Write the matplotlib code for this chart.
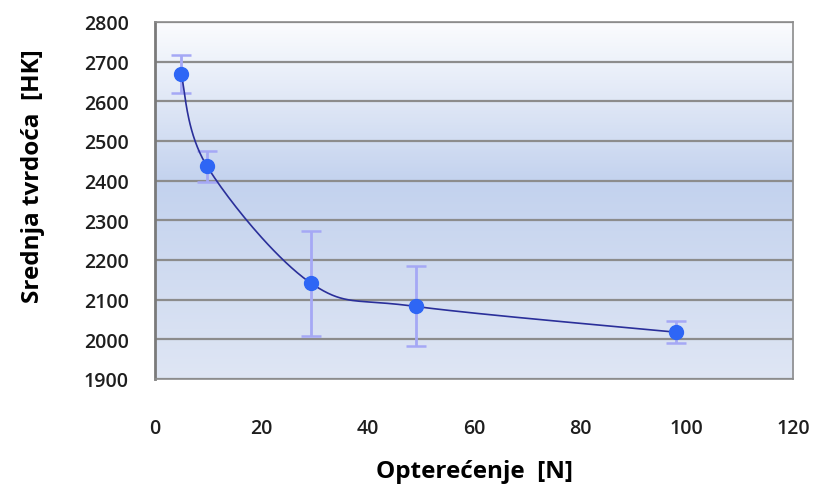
import numpy as np
import matplotlib
matplotlib.use("Agg")
import matplotlib.pyplot as plt
from matplotlib.colors import LinearSegmentedColormap

# Data
load_N = [4.9, 9.8, 29.4, 49.0, 98.0]
hardness = [2670, 2436, 2141, 2083, 2018]
err = [48, 40, 132, 101, 27]
x_ticks = [0, 20, 40, 60, 80, 100, 120]
y_ticks = [1900, 2000, 2100, 2200, 2300, 2400, 2500, 2600, 2700, 2800]


def catmull_rom(xs, ys, n=40, tension=0.5):
    xs = np.asarray(xs, float); ys = np.asarray(ys, float)
    px = np.concatenate([[xs[0]], xs, [xs[-1]]])
    py = np.concatenate([[ys[0]], ys, [ys[-1]]])
    ox, oy = [], []
    for i in range(1, len(px) - 2):
        p0 = np.array([px[i-1], py[i-1]]); p1 = np.array([px[i], py[i]])
        p2 = np.array([px[i+1], py[i+1]]); p3 = np.array([px[i+2], py[i+2]])
        c1 = p1 + (p2 - p0) * tension / 3
        c2 = p2 - (p3 - p1) * tension / 3
        t = np.linspace(0, 1, n)[:, None]
        b = (1-t)**3*p1 + 3*(1-t)**2*t*c1 + 3*(1-t)*t**2*c2 + t**3*p2
        ox.extend(b[:, 0]); oy.extend(b[:, 1])
    return np.array(ox), np.array(oy)


plt.rcParams['font.family'] = ['Open Sans', 'DejaVu Sans']
fig = plt.figure(figsize=(8.13, 4.89), dpi=100)
ax = fig.add_axes([155/813, 1-380/489, (793-155)/813, (380-23)/489])

ax.set_xlim(0, 120)
ax.set_ylim(1900, 2800)

# gradient background
cmap = LinearSegmentedColormap.from_list(
    "bg", [(0.0, "#dfe6f4"), (0.55, "#c3d2ee"), (1.0, "#fbfcfe")])
grad = np.linspace(0, 1, 256)[:, None]
ax.imshow(grad, extent=[0, 120, 1900, 2800], origin="lower", cmap=cmap,
          aspect="auto", zorder=0)

for y in y_ticks:
    ax.axhline(y, color="#8c8c8c", lw=1.6, zorder=1)

# error bars
ax.errorbar(load_N, hardness, yerr=err, fmt="none", ecolor="#a5a8f5",
            elinewidth=2.0, capsize=7, capthick=1.8, zorder=2)

sx, sy = catmull_rom(load_N, hardness)
ax.plot(sx, sy, color="#2a2f9a", lw=1.2, zorder=3)
ax.plot(load_N, hardness, "o", color="#2e66f5", ms=10, zorder=4)

ax.set_xticks(x_ticks)
ax.set_yticks(y_ticks)
ax.tick_params(length=0, labelsize=14, colors="#1e1e1e")
for lab in ax.get_xticklabels() + ax.get_yticklabels():
    lab.set_fontweight("semibold")
ax.tick_params(axis="x", pad=28)
ax.tick_params(axis="y", pad=19)

for side in ["top", "right", "bottom"]:
    ax.spines[side].set_color("#8c8c8c")
    ax.spines[side].set_linewidth(1.2)
ax.spines["left"].set_color("#7a7a7a")
ax.spines["left"].set_linewidth(2)

ax.set_xlabel("Opterećenje  [N]", fontsize=17.5, fontweight="bold", labelpad=15)
ax.set_ylabel("Srednja tvrdoća  [HK]", fontsize=17.5, fontweight="bold", labelpad=22)
ax.yaxis.set_label_coords(-0.173, 0.57)

fig.savefig("out.png", dpi=100, facecolor="white")
